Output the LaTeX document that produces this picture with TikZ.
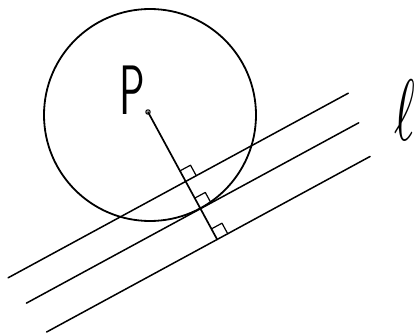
\documentclass[tikz,border=0pt]{standalone}
\usetikzlibrary{calc}
\begin{document}
\begin{tikzpicture}[x=1pt,y=-1pt,line cap=round,line join=round,
  rim/.style={line width=1.8pt},
  rail/.style={line width=1.5pt},
  perp/.style={line width=1.7pt},
  rightmark/.style={line width=1.2pt},
  handlabel/.style={inner sep=0pt,font=\sffamily}]
\useasboundingbox (0,0) rectangle (418,334);
\def\ux{0.879}\def\uy{-0.477}\def\nx{0.477}\def\ny{0.879}
\coordinate (P) at (148,112);
\coordinate (C) at (150,115);
% feet of the perpendicular on the three lines
\coordinate (F1) at ($(P)+79*(\nx,\ny)$);
\coordinate (F2) at ($(P)+110*(\nx,\ny)$);
\coordinate (F3) at ($(P)+145*(\nx,\ny)$);
% ends of the lines
\coordinate (A1) at ($(F1)-202*(\ux,\uy)$);
\coordinate (B1) at ($(F1)+185*(\ux,\uy)$);
\coordinate (A2) at ($(F2)-198*(\ux,\uy)$);
\coordinate (B2) at ($(F2)+180*(\ux,\uy)$);
\coordinate (A3) at ($(F3)-194*(\ux,\uy)$);
\coordinate (B3) at ($(F3)+174*(\ux,\uy)$);
% circle
\draw[rim] (C) circle[radius=106];
% lines
\draw[rail] (A1) -- (B1);
\draw[rail] (A2) -- (B2);
\draw[rail] (A3) -- (B3);
% perpendicular
\draw[perp] (P) -- (F3);
\draw[line width=1.1pt] (P) circle[radius=2.2];
% right-angle marks
\foreach \f in {F1,F2,F3}{
  \draw[rightmark] ($(\f)+12*(\ux,\uy)$) -- ($(\f)+12*(\ux,\uy)-12*(\nx,\ny)$) -- ($(\f)-12*(\nx,\ny)$);
}
% labels
\node[handlabel,xscale=4,yscale=7] (Plabel) at (132,90) {P};
\node[inner sep=0pt,xscale=5,yscale=8.7] (ell) at (405,110) {$\ell$};
\end{tikzpicture}
\end{document}
